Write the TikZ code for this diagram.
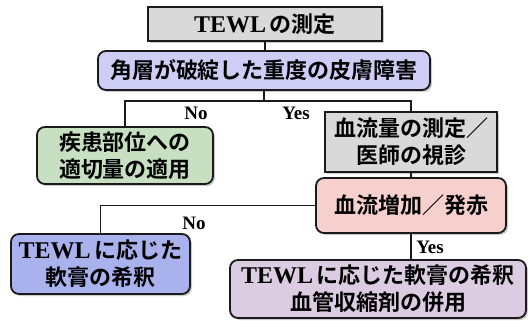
\documentclass[tikz,border=0pt]{standalone}
\usepackage{fontspec}
\setmainfont{Liberation Serif}
\newfontfamily\jp{Noto Sans CJK JP}[UprightFont=* Bold]
\usetikzlibrary{shadows}
\definecolor{cgray}{HTML}{D9D9D9}
\definecolor{clav}{HTML}{CDCDF5}
\definecolor{cgreen}{HTML}{C6E0C1}
\definecolor{cpink}{HTML}{F6D0CC}
\definecolor{cblue}{HTML}{AAB2EE}
\definecolor{cmauve}{HTML}{DCCCE2}
\definecolor{cline}{HTML}{1A1A1A}
\newcommand{\tewl}{{\fontsize{24}{27}\selectfont\bfseries TEWL}\,}
\tikzset{
  boxbase/.style={draw=cline, line width=1.8pt, inner sep=0pt, align=center,
    font=\fontsize{22}{27}\selectfont,
    drop shadow={shadow xshift=2pt, shadow yshift=-2pt, fill=black!45, opacity=0.45}},
  sqbox/.style={boxbase, rectangle},
  rndbox/.style={boxbase, rounded corners=8pt},
  conn/.style={line width=1.6pt, draw=cline},
  lbl/.style={font=\fontsize{19}{19}\selectfont\bfseries, inner sep=0pt}
}
\begin{document}
\begin{tikzpicture}[x=1pt,y=-1pt]
\useasboundingbox (0,0) rectangle (528,321);
\node[sqbox, fill=cgray, minimum width=234pt, minimum height=34pt] (b1) at (265,24) {\tewl{\jp の測定}};
\node[rndbox, fill=clav, minimum width=332pt, minimum height=39pt] (b2) at (264,70.5) {\jp 角層が破綻した重度の皮膚障害};
\node[rndbox, fill=cgreen, minimum width=176pt, minimum height=57pt] (b3) at (125,155.5) {\jp 疾患部位への\\\jp 適切量の適用};
\node[sqbox, fill=cgray, minimum width=172pt, minimum height=60pt] (b4) at (411,142) {\jp 血流量の測定／\\\jp 医師の視診};
\node[rndbox, fill=cpink, minimum width=190pt, minimum height=55pt] (b5) at (411,205.5) {\jp 血流増加／発赤};
\node[rndbox, fill=cblue, minimum width=179pt, minimum height=60pt] (b6) at (100.5,264) {\tewl{\jp に応じた}\\\jp 軟膏の希釈};
\node[rndbox, fill=cmauve, minimum width=296pt, minimum height=58pt] (b7) at (378,289) {\tewl{\jp に応じた軟膏の希釈}\\\jp 血管収縮剤の併用};
\coordinate (j) at (264,101);
\node[lbl] (no1) at (196,113) {No};
\node[lbl] (yes1) at (296,113) {Yes};
\node[lbl] (no2) at (194,223) {No};
\node[lbl] (yes2) at (430,247) {Yes};
\draw[conn] (b1.south) -- (b1.south |- b2.north);
\draw[conn] (b2.south) -- (j);
\draw[conn] (b3.north) |- (j) -| (b4.north);
\draw[conn] (b4.south) -- (b4.south |- b5.north);
\draw[conn] (b5.west) -| (b6.north);
\draw[conn] (b5.south) -- (b5.south |- b7.north);
\end{tikzpicture}
\end{document}
